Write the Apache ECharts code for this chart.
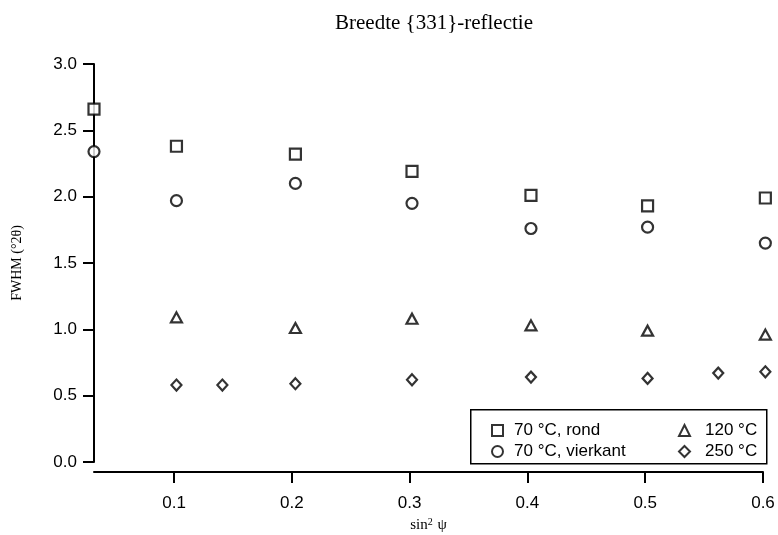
<!DOCTYPE html>
<html>
<head>
<meta charset="utf-8">
<script src="https://cdn.jsdelivr.net/npm/echarts@6/dist/echarts.min.js"></script>
<style>
html,body{margin:0;padding:0;background:#fff;}
#chart{width:778px;height:535px;}
</style>
</head>
<body>
<div id="chart"></div>
<script>
const seriesNames = ['70 °C, rond', '70 °C, vierkant', '120 °C', '250 °C'];
const xTicks = [0.1, 0.2, 0.3, 0.4, 0.5, 0.6];
const yTicks = [0, 0.5, 1.0, 1.5, 2.0, 2.5, 3.0];

const xRond = [0.032, 0.102, 0.203, 0.302, 0.403, 0.502, 0.602];
const yRond = [2.66, 2.38, 2.32, 2.19, 2.01, 1.93, 1.99];

const xVierkant = [0.032, 0.102, 0.203, 0.302, 0.403, 0.502, 0.602];
const yVierkant = [2.34, 1.97, 2.10, 1.95, 1.76, 1.77, 1.65];

const x120 = [0.102, 0.203, 0.302, 0.403, 0.502, 0.602];
const y120 = [1.09, 1.01, 1.08, 1.03, 0.99, 0.96];

const x250 = [0.102, 0.141, 0.203, 0.302, 0.403, 0.502, 0.562, 0.602];
const y250 = [0.58, 0.58, 0.59, 0.62, 0.64, 0.63, 0.67, 0.68];

function pairs(xs, ys) { return xs.map((x, i) => [x, ys[i]]); }

const chart = echarts.init(document.getElementById('chart'), null, {renderer: 'canvas'});
const sans = 'Liberation Sans, Arial, sans-serif';
const serif = 'Liberation Serif, Times New Roman, serif';
const markStyle = {color: '#fff', borderColor: '#000', borderWidth: 2.2};

function mk(name, data, symbol, size) {
  return {
    type: 'scatter', name: name, data: data, symbol: symbol, symbolSize: size,
    itemStyle: markStyle, clip: false, z: 5,
    emphasis: {disabled: true}
  };
}

const option = {
  backgroundColor: '#fff',
  animation: false,
  title: {
    text: 'Breedte {331}-reflectie',
    left: 330, top: 8,
    textStyle: {fontFamily: serif, fontSize: 21, fontWeight: 'normal', color: '#000'}
  },
  grid: {left: 94, right: 15, top: 64, bottom: 73, containLabel: false, outerBoundsMode: 'none'},
  legend: [
    {
      data: [seriesNames[0], seriesNames[1]], orient: 'vertical',
      left: 486, top: 417, itemGap: 4, itemWidth: 11, itemHeight: 11,
      textStyle: {fontFamily: sans, fontSize: 17, color: '#000', padding: [0,0,0,6]},
      selectedMode: false
    },
    {
      data: [seriesNames[2], seriesNames[3]], orient: 'vertical',
      left: 673, top: 417, itemGap: 4, itemWidth: 11, itemHeight: 11,
      textStyle: {fontFamily: sans, fontSize: 17, color: '#000', padding: [0,0,0,10]},
      selectedMode: false
    }
  ],
  graphic: [{
    type: 'rect', left: 470, top: 409, z: 1,
    shape: {width: 296, height: 54},
    style: {fill: '#fff', stroke: '#000', lineWidth: 1.5}
  }],
  xAxis: {
    type: 'value', min: 0.032, max: 0.6, offset: 10,
    name: 'sin{sup|2} ψ', nameLocation: 'middle', nameGap: 38,
    nameTextStyle: {fontFamily: serif, fontSize: 15, color: '#000',
      rich: {sup: {fontFamily: serif, fontSize: 10, verticalAlign: 'top', padding: [0,1,6,0], color: '#000'}}},
    axisLine: {show: true, onZero: false, lineStyle: {color: '#000', width: 2}},
    axisTick: {show: true, length: 11, customValues: xTicks, lineStyle: {color: '#000', width: 2}},
    axisLabel: {customValues: xTicks, formatter: v => v.toFixed(1), margin: 23,
      fontFamily: sans, fontSize: 17, color: '#000'},
    splitLine: {show: false}
  },
  yAxis: {
    type: 'value', min: 0, max: 3, interval: 0.5,
    name: 'FWHM (°2θ)', nameLocation: 'middle', nameGap: 70, nameRotate: 90,
    nameTextStyle: {fontFamily: serif, fontSize: 14, color: '#000'},
    axisLine: {show: true, onZero: false, lineStyle: {color: '#000', width: 2}},
    axisTick: {show: true, length: 11, customValues: yTicks, lineStyle: {color: '#000', width: 2}},
    axisLabel: {customValues: yTicks, formatter: v => v.toFixed(1), margin: 17,
      fontFamily: sans, fontSize: 17, color: '#000'},
    splitLine: {show: false}
  },
  series: [
    mk(seriesNames[0], pairs(xRond, yRond), 'rect', 11),
    mk(seriesNames[1], pairs(xVierkant, yVierkant), 'circle', 11),
    mk(seriesNames[2], pairs(x120, y120), 'triangle', [11, 10]),
    mk(seriesNames[3], pairs(x250, y250), 'diamond', [10, 11])
  ]
};
chart.setOption(option);
</script>
</body>
</html>
